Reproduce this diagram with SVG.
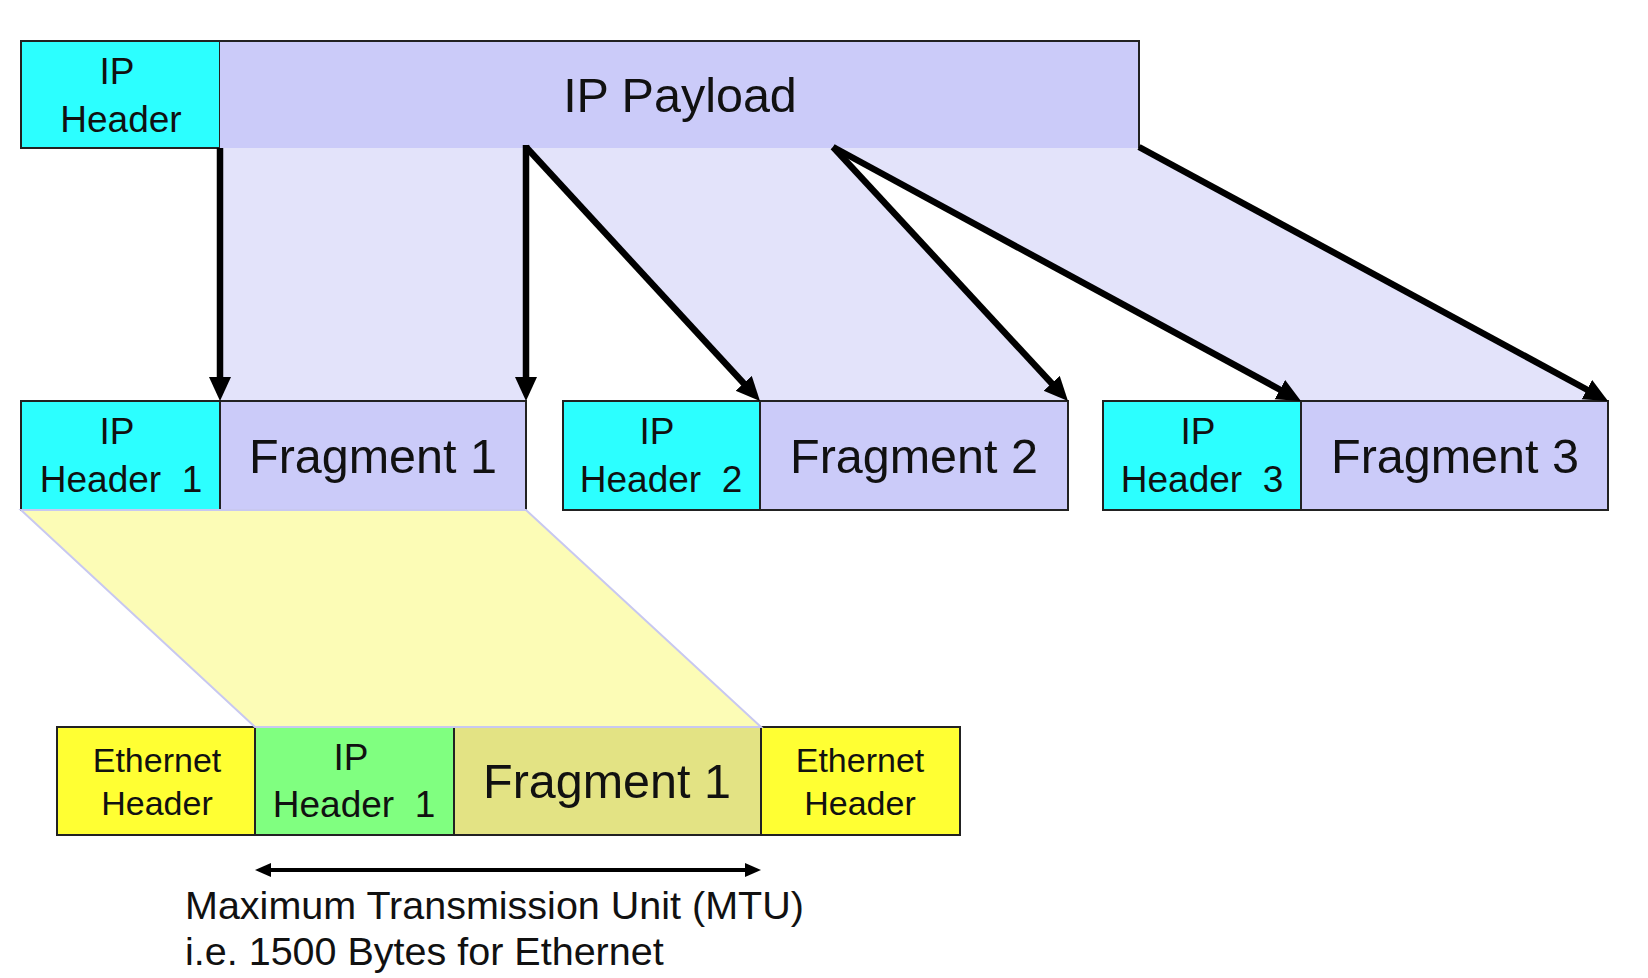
<svg xmlns="http://www.w3.org/2000/svg" width="1648" height="978" viewBox="0 0 1648 978">
<style>
.t{font-family:"Liberation Sans",Arial,sans-serif;fill:#111;text-anchor:middle}
.hdr{font-size:37px}
.big{font-size:48.5px}
.eth{font-size:34px}
.bx{stroke:#222;stroke-width:2}
.cy{fill:#2CFFFF}
.lv{fill:#CBCBF9}
.ye{fill:#FFFF33}
.gr{fill:#80FF80}
.kh{fill:#E3E384}
.sh{fill:#E3E3FA}
.cn{stroke:#000;stroke-width:6.5;fill:none}
</style>
<defs>
<marker id="ah" markerUnits="userSpaceOnUse" markerWidth="26" markerHeight="24" refX="4" refY="11" orient="auto">
<path d="M0,0 L24,11 L0,22 z" fill="#000"/>
</marker>
<marker id="sh2" markerUnits="userSpaceOnUse" markerWidth="18" markerHeight="16" refX="4" refY="7" orient="auto-start-reverse">
<path d="M0,0 L16,7 L0,14 z" fill="#000"/>
</marker>
</defs>
<rect width="1648" height="978" fill="#fff"/>
<g id="shading">
<polygon class="sh" points="220,148 526,148 526,401 220,401"/>
<polygon class="sh" points="526,148 833,148 1068,401 760,401"/>
<polygon class="sh" points="833,148 1139,148 1608,401 1301,401"/>
</g>
<g id="ip-header">
<rect class="bx cy" x="21" y="41" width="199" height="107"/>
<text class="t hdr" x="117" y="84">IP</text>
<text class="t hdr" x="121" y="132">Header</text>
</g>
<g id="ip-payload">
<rect class="lv" x="220" y="41" width="919" height="107"/>
<path d="M220,41 H1139 V148" fill="none" stroke="#222" stroke-width="2"/>
<text class="t big" x="680" y="112">IP Payload</text>
</g>
<g id="ip-header-1">
<rect class="bx cy" x="21" y="401" width="199" height="109"/>
<text class="t hdr" x="117" y="444">IP</text>
<text class="t hdr" x="121" y="492" xml:space="preserve">Header  1</text>
</g>
<g id="fragment-1">
<rect class="bx lv" x="220" y="401" width="306" height="109"/>
<text class="t big" x="373" y="473">Fragment 1</text>
</g>
<g id="ip-header-2">
<rect class="bx cy" x="563" y="401" width="197" height="109"/>
<text class="t hdr" x="657" y="444">IP</text>
<text class="t hdr" x="661" y="492" xml:space="preserve">Header  2</text>
</g>
<g id="fragment-2">
<rect class="bx lv" x="760" y="401" width="308" height="109"/>
<text class="t big" x="914" y="473">Fragment 2</text>
</g>
<g id="ip-header-3">
<rect class="bx cy" x="1103" y="401" width="198" height="109"/>
<text class="t hdr" x="1198" y="444">IP</text>
<text class="t hdr" x="1202" y="492" xml:space="preserve">Header  3</text>
</g>
<g id="fragment-3">
<rect class="bx lv" x="1301" y="401" width="307" height="109"/>
<text class="t big" x="1455" y="473">Fragment 3</text>
</g>
<g id="eth-header-left">
<rect class="bx ye" x="57" y="727" width="198" height="108"/>
<text class="t eth" x="157" y="772">Ethernet</text>
<text class="t eth" x="157" y="815">Header</text>
</g>
<g id="frame-ip-header-1">
<rect class="bx gr" x="255" y="727" width="199" height="108"/>
<text class="t hdr" x="351" y="770">IP</text>
<text class="t hdr" x="354" y="817" xml:space="preserve">Header  1</text>
</g>
<g id="frame-fragment-1">
<rect class="bx kh" x="454" y="727" width="307" height="108"/>
<text class="t big" x="607" y="798">Fragment 1</text>
</g>
<g id="eth-header-right">
<rect class="bx ye" x="761" y="727" width="199" height="108"/>
<text class="t eth" x="860" y="772">Ethernet</text>
<text class="t eth" x="860" y="815">Header</text>
</g>
<g id="encapsulation">
<polygon points="21,510 526,510 761,727 255,727" fill="#FCFCB6" stroke="#C8C8F0" stroke-width="2"/>
</g>
<g id="connectors">
<line class="cn" x1="220" y1="148" x2="220" y2="381" marker-end="url(#ah)"/>
<line class="cn" x1="526" y1="145" x2="526" y2="381" marker-end="url(#ah)"/>
<line class="cn" x1="526" y1="147" x2="746.4" y2="386.3" marker-end="url(#ah)"/>
<line class="cn" x1="833" y1="147" x2="1054.4" y2="386.3" marker-end="url(#ah)"/>
<line class="cn" x1="833" y1="147" x2="1283.4" y2="391.5" marker-end="url(#ah)"/>
<line class="cn" x1="1139" y1="147" x2="1590.4" y2="391.5" marker-end="url(#ah)"/>
<line x1="267" y1="870" x2="749" y2="870" stroke="#000" stroke-width="4" marker-start="url(#sh2)" marker-end="url(#sh2)"/>
</g>
<g id="mtu-label">
<text class="t" x="185" y="919" style="text-anchor:start;font-size:39.5px">Maximum Transmission Unit (MTU)</text>
<text class="t" x="185" y="965" style="text-anchor:start;font-size:39.5px">i.e. 1500 Bytes for Ethernet</text>
</g>
</svg>
